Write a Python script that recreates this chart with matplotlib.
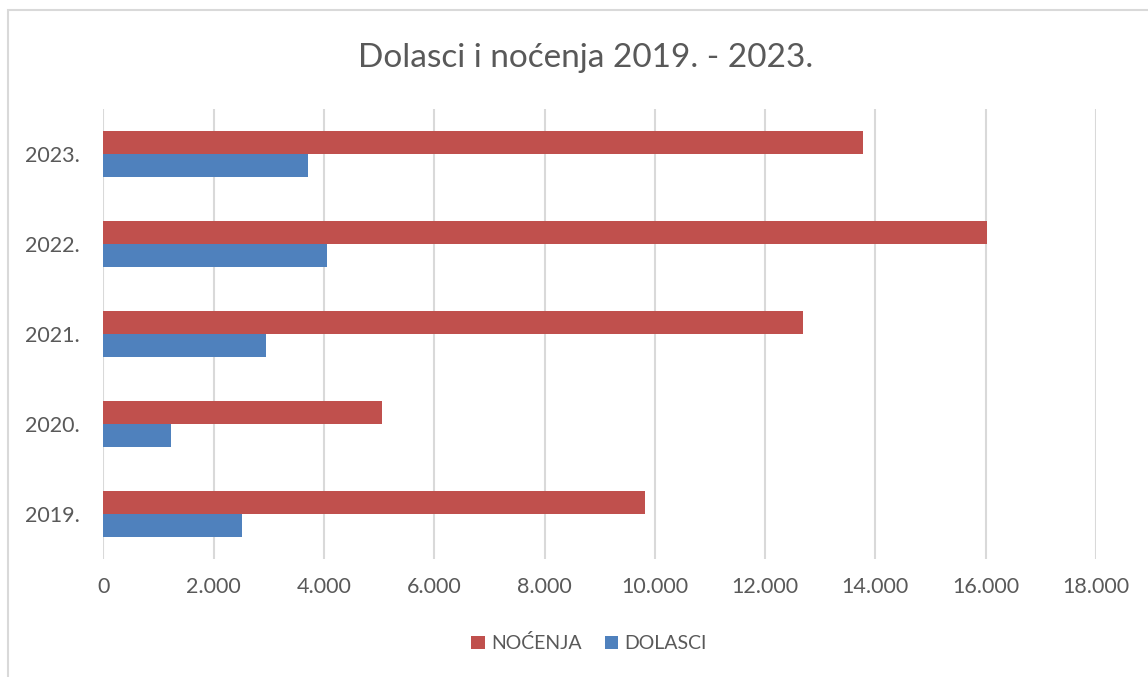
## horizontal bar chart: dolasci i nocenja

import numpy as np
import matplotlib.pyplot as plt
from matplotlib.patches import Rectangle
from matplotlib.ticker import FuncFormatter

years = ["2019.", "2020.", "2021.", "2022.", "2023."]
nocenja = [9820, 5050, 12690, 16030, 13780]
dolasci = [2510, 1230, 2950, 4050, 3720]

red = "#C0504D"
blue = "#4F81BD"
txt = "#595959"

plt.rcParams['font.family'] = ['Lato', 'DejaVu Sans']

fig = plt.figure(figsize=(11.48, 6.77), dpi=100)
ax = fig.add_axes([0.09, 0.1743, 0.8647, 0.6647])

y = np.arange(len(years))
h = 0.26
ax.barh(y + h / 2, nocenja, height=h, color=red, label="NOĆENJA", zorder=3)
ax.barh(y - h / 2, dolasci, height=h, color=blue, label="DOLASCI", zorder=3)

ax.set_xlim(0, 18000)
ax.set_ylim(-0.5, 4.5)
ax.set_xticks(np.arange(0, 18001, 2000))
ax.xaxis.set_major_formatter(FuncFormatter(lambda v, p: f"{int(v):,}".replace(",", ".")))
ax.set_yticks(y)
ax.set_yticklabels(years)
ax.grid(axis="x", color="#D9D9D9", linewidth=1.5, zorder=0)
for s in ax.spines.values():
    s.set_visible(False)
ax.tick_params(length=0, labelsize=15.5, labelcolor=txt)
ax.tick_params(axis="x", pad=13)
ax.tick_params(axis="y", pad=17)

fig.text(0.51, 0.915, "Dolasci i noćenja 2019. - 2023.", ha="center", va="center",
         fontsize=24, color=txt)

fig.legend(loc="center", bbox_to_anchor=(0.513, 0.05), ncol=2, frameon=False,
           fontsize=14, labelcolor=txt, handlelength=0.7, handleheight=0.7,
           handletextpad=0.3, columnspacing=1.2)

# outer chart border (left and top only visible)
fig.add_artist(Rectangle((8 / 1148, -0.1), 1.2, 1 - 10 / 677 + 0.1,
                         transform=fig.transFigure, fill=False,
                         edgecolor="#D9D9D9", linewidth=1.5))

fig.savefig("out.png", dpi=100)
